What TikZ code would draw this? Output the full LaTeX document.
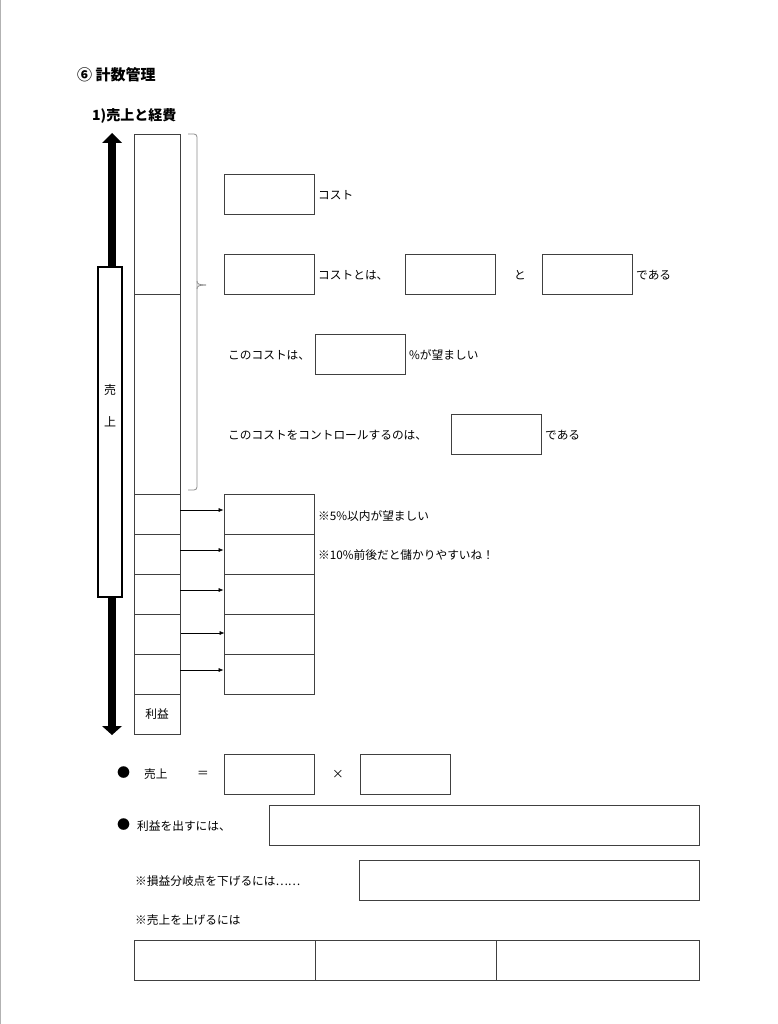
\documentclass[tikz,border=0pt]{standalone}
\usepackage{fontspec}
\setmainfont{Noto Sans CJK JP}
\usetikzlibrary{arrows.meta}
\begin{document}
\begin{tikzpicture}[x=1pt,y=-1pt,
  box/.style={draw=black!75, line width=0.8pt, minimum width=90pt, minimum height=40pt, inner sep=0pt},
  cell/.style={draw=black!75, line width=0.8pt, minimum width=46pt, inner sep=0pt},
  txt/.style={anchor=west, inner sep=0pt, font=\fontsize{11.7}{13}\selectfont},
  arr/.style={-{Latex[length=5pt,width=4pt]}, line width=0.6pt, black}]
\useasboundingbox (0,0) rectangle (777,1024);
\draw[black!30, line width=0.8pt] (0.5,0) -- (0.5,1024);

% headings
\node[anchor=west, inner sep=0pt, font=\fontsize{15}{17}\selectfont\bfseries] (title) at (77,75) {⑥ 計数管理};
\node[anchor=west, inner sep=0pt, font=\fontsize{14}{16}\selectfont\bfseries] (sub) at (92,116) {1)売上と経費};

% big double arrow
\coordinate (atop) at (112,133);
\coordinate (abot) at (112,735);
\draw[line width=8pt, black] (112,142) -- (112,727);
\fill[black] (atop) -- (122,143) -- (102,143) -- cycle;
\fill[black] (abot) -- (122,726) -- (102,726) -- cycle;
\node[draw=black, line width=1.5pt, fill=white, minimum width=24pt, minimum height=330pt, inner sep=0pt] (uri) at (110,432) {};
\node[inner sep=0pt, font=\fontsize{12}{14}\selectfont] (u1) at (110,390) {売};
\node[inner sep=0pt, font=\fontsize{12}{14}\selectfont] (u2) at (110,422) {上};

% left column
\node[cell, minimum height=160pt] (k1) at (157,214) {};
\node[cell, minimum height=200pt] (k2) at (157,394) {};
\node[cell, minimum height=40pt] (c1) at (157,514) {};
\node[cell, minimum height=40pt] (c2) at (157,554) {};
\node[cell, minimum height=40pt] (c3) at (157,594) {};
\node[cell, minimum height=40pt] (c4) at (157,634) {};
\node[cell, minimum height=40pt] (c5) at (157,674) {};
\node[cell, minimum height=40pt, font=\fontsize{11.7}{13}\selectfont] (rieki) at (157,714) {利益};

% brace
\draw[black!45, line width=0.8pt, rounded corners=3pt] (188,134) -- (197,134) -- (197,490) -- (188,490);
\draw[black!45, line width=0.8pt] (197,281) .. controls (197,284) and (199,285) .. (206,285);
\draw[black!45, line width=0.8pt] (197,289) .. controls (197,286) and (199,285) .. (206,285);

% cost statements
\node[box] (bA) at (269,194) {};
\node[txt] (tA) at (318,195) {コスト};
\node[box] (bB) at (269,274) {};
\node[txt] (tB) at (318,275) {コストとは、};
\node[box] (bC) at (450,274) {};
\node[txt] (tC) at (514,275) {と};
\node[box] (bD) at (587,274) {};
\node[txt] (tD) at (636,275) {である};
\node[txt] (tE0) at (228,355) {このコストは、};
\node[box] (bE) at (360,354) {};
\node[txt] (tE) at (409,355) {\%が望ましい};
\node[txt] (tF0) at (228,435) {このコストをコントロールするのは、};
\node[box] (bF) at (496,434) {};
\node[txt] (tF) at (545,435) {である};

% stack boxes
\node[box] (s1) at (269,514) {};
\node[box] (s2) at (269,554) {};
\node[box] (s3) at (269,594) {};
\node[box] (s4) at (269,634) {};
\node[box] (s5) at (269,674) {};
\node[txt] (n1) at (318,516) {※5\%以内が望ましい};
\node[txt] (n2) at (318,555) {※10\%前後だと儲かりやすいね！};

\draw[arr] ([yshift=4pt]c1.east) -- ([yshift=4pt]s1.west);
\draw[arr] ([yshift=4pt]c2.east) -- ([yshift=4pt]s2.west);
\draw[arr] ([yshift=4pt]c3.east) -- ([yshift=4pt]s3.west);
\draw[arr] ([yshift=1pt,xshift=1pt]c4.east) -- ([yshift=1pt,xshift=1pt]s4.west);
\draw[arr] ([yshift=4pt]c5.east) -- ([yshift=4pt]s5.west);

% bottom formulas
\node[txt, font=\fontsize{13}{15}\selectfont] (dot1) at (117,773) {●};
\node[txt] (t1) at (144,774) {売上};
\node[txt] (eq) at (197,774) {＝};
\node[box] (bG) at (269,774) {};
\node[txt] (times) at (332,774) {×};
\node[box] (bH) at (405,774) {};

\node[txt, font=\fontsize{13}{15}\selectfont] (dot2) at (117,825) {●};
\node[txt] (t2) at (137,826) {利益を出すには、};
\node[box, minimum width=430pt] (bI) at (484,825) {};

\node[txt] (t3) at (135,881) {※損益分岐点を下げるには……};
\node[box, minimum width=340pt] (bJ) at (529,880) {};

\node[txt] (t4) at (135,920) {※売上を上げるには};
\node[box, minimum width=181pt] (r1) at (224.5,960) {};
\node[box, minimum width=181pt] (r2) at (405.5,960) {};
\node[box, minimum width=203pt] (r3) at (597.5,960) {};
\end{tikzpicture}
\end{document}
